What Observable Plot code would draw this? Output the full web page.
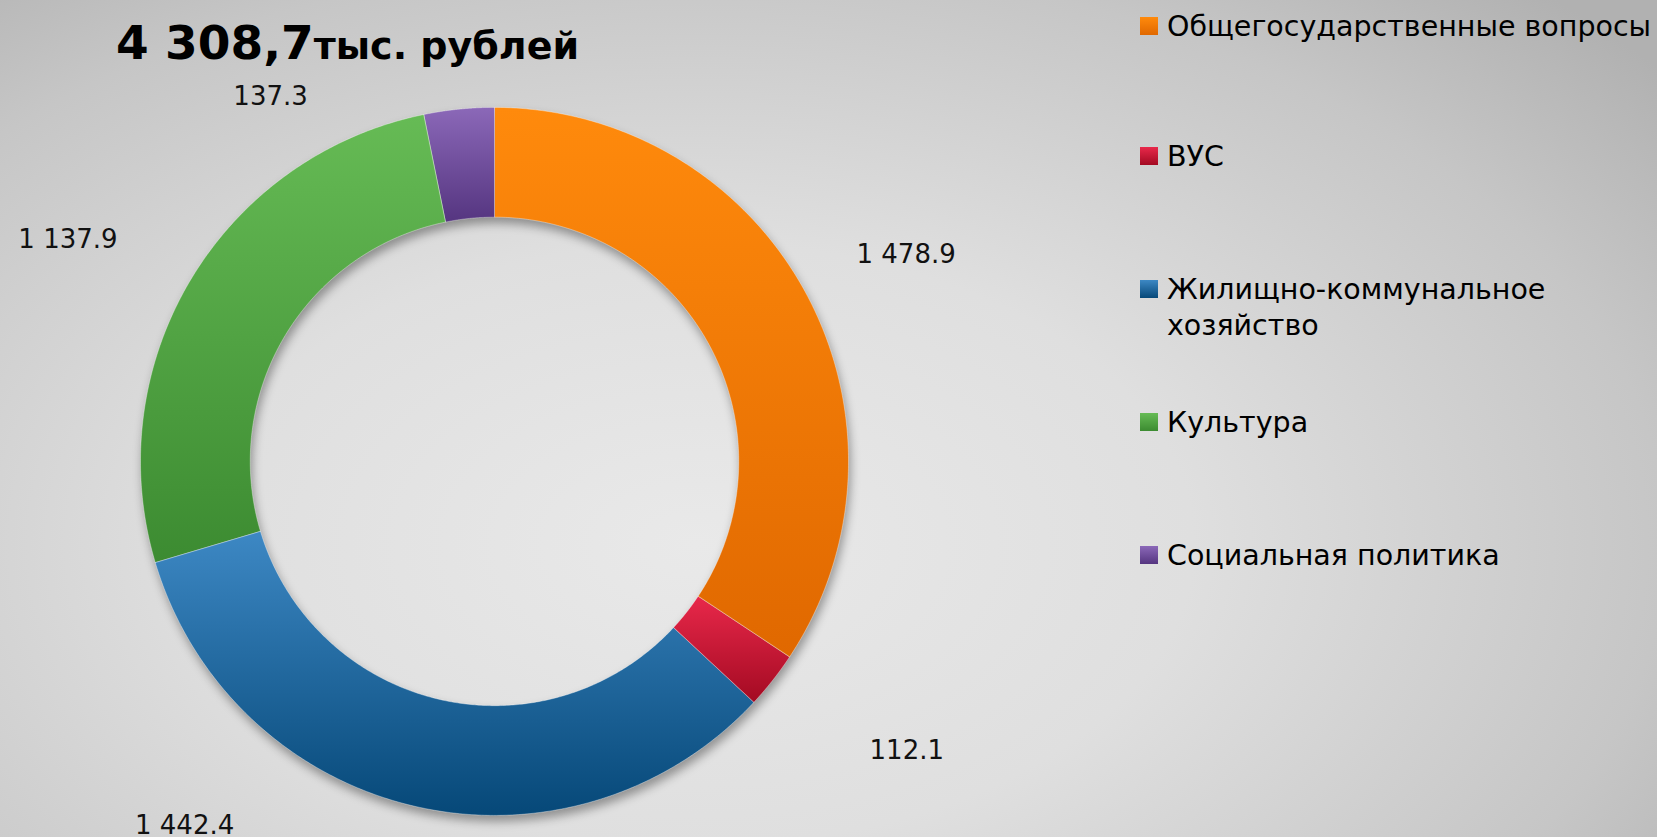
<!DOCTYPE html>
<html><head><meta charset="utf-8">
<script src="https://cdn.jsdelivr.net/npm/d3@7"></script>
<script src="https://cdn.jsdelivr.net/npm/@observablehq/plot@0.6"></script>
<style>
html,body{margin:0;padding:0}
body{width:1657px;height:837px;overflow:hidden;position:relative;font-family:"DejaVu Sans",Verdana,sans-serif;
  background: radial-gradient(ellipse 75% 90% at 42% 65%, #e9e9e9 0%, #dfdfdf 40%, #c6c6c6 78%, #b1b1b1 100%);}
#chart{position:absolute;left:0;top:0}
#chart svg{background:transparent}
#chart g[aria-label="area"]{filter:drop-shadow(2px 6px 5px rgba(0,0,0,0.35))}
#title{position:absolute;left:116px;top:19px;font-weight:bold;white-space:nowrap;color:#000;line-height:48px}
#title .big{font-size:47px}
#title .small{font-size:38px}
.leg{position:absolute;left:1167px;font-size:28.5px;line-height:36px;color:#000;white-space:nowrap}
.leg .sw{position:absolute;left:-27px;top:8px;width:18px;height:18px}
</style>
</head><body>
<div id="title"><span class="big">4 308,7</span><span class="small">тыс. рублей</span></div>
<div id="legend"></div>
<div id="chart"></div>
<script>
// ---- data ----
const categories = ["Общегосударственные вопросы", "ВУС", "Жилищно-коммунальное хозяйство", "Культура", "Социальная политика"];
const values = [1478.9, 112.1, 1442.4, 1137.9, 137.3];
const valueLabels = ["1 478.9", "112.1", "1 442.4", "1 137.9", "137.3"];
const legendLines = [["Общегосударственные вопросы"], ["ВУС"], ["Жилищно-коммунальное", "хозяйство"], ["Культура"], ["Социальная политика"]];

// ---- style / layout ----
const colorTop = ["#ff8a0c", "#e8284a", "#3d88c4", "#66bb55", "#8b68b8"];
const colorBottom = ["#e06800", "#a30a22", "#064878", "#3c8b31", "#553580"];
const labelPlacement = [ // [angle in degrees clockwise from 12 o'clock, radius as fraction of outer radius]
  [63.3, 1.30], [125.0, 1.42], [220.5, 1.35], [297.5, 1.36], [328.4, 1.21]
];
const legendTops = [9, 139, 272, 405, 538];
const innerFrac = 0.69;
const W = 1657, H = 837;
const cx = 494.5, cy = 461.4, R = 354;

// ---- geometry from values ----
const pie = d3.pie().sort(null).value(d => d.value)(categories.map((c, i) => ({cat: c, i, value: values[i]})));
const ringPts = [];
for (const p of pie) {
  const n = 240;
  for (let k = 0; k <= n; k++) {
    const a = p.startAngle + (p.endAngle - p.startAngle) * k / n;
    ringPts.push({
      cat: p.data.cat, i: p.data.i,
      x1: innerFrac * Math.sin(a), y1: innerFrac * Math.cos(a),
      x2: Math.sin(a), y2: Math.cos(a)
    });
  }
}
const labels = values.map((v, i) => {
  const a = labelPlacement[i][0] * Math.PI / 180, r = labelPlacement[i][1];
  return {text: valueLabels[i], x: r * Math.sin(a), y: r * Math.cos(a)};
});

const plot = Plot.plot({
  width: W, height: H,
  marginTop: 0, marginBottom: 0, marginLeft: 0, marginRight: 0,
  x: {domain: [-1, 1], range: [cx - R, cx + R], axis: null},
  y: {domain: [-1, 1], range: [cy + R, cy - R], axis: null},
  color: {type: "identity"},
  style: {background: "transparent", overflow: "visible"},
  marks: [
    Plot.area(ringPts, {x1: "x1", y1: "y1", x2: "x2", y2: "y2", z: "cat",
      fill: d => `url(#seg${d.i})`, stroke: "rgba(255,255,255,0.35)", strokeWidth: 1, curve: "linear"}),
    Plot.text(labels, {x: "x", y: "y", text: "text", fontSize: 26, fill: "#111",
      fontFamily: "DejaVu Sans, Verdana, sans-serif", textAnchor: "middle", lineAnchor: "middle"})
  ]
});

// gradients (per segment bounding box)
const svg = d3.select(plot);
const defs = svg.insert("defs", ":first-child");
colorTop.forEach((c, i) => {
  const g = defs.append("linearGradient").attr("id", `seg${i}`)
    .attr("x1", 0).attr("x2", 0).attr("y1", 0).attr("y2", 1);
  g.append("stop").attr("offset", "0%").attr("stop-color", c);
  g.append("stop").attr("offset", "100%").attr("stop-color", colorBottom[i]);
});
document.getElementById("chart").appendChild(plot);

// legend
const leg = document.getElementById("legend");
legendLines.forEach((lines, i) => {
  const d = document.createElement("div");
  d.className = "leg";
  d.style.top = legendTops[i] + "px";
  d.innerHTML = `<span class="sw" style="background:linear-gradient(180deg, ${colorTop[i]}, ${colorBottom[i]})"></span>` + lines.join("<br>");
  leg.appendChild(d);
});
</script>
</body></html>
